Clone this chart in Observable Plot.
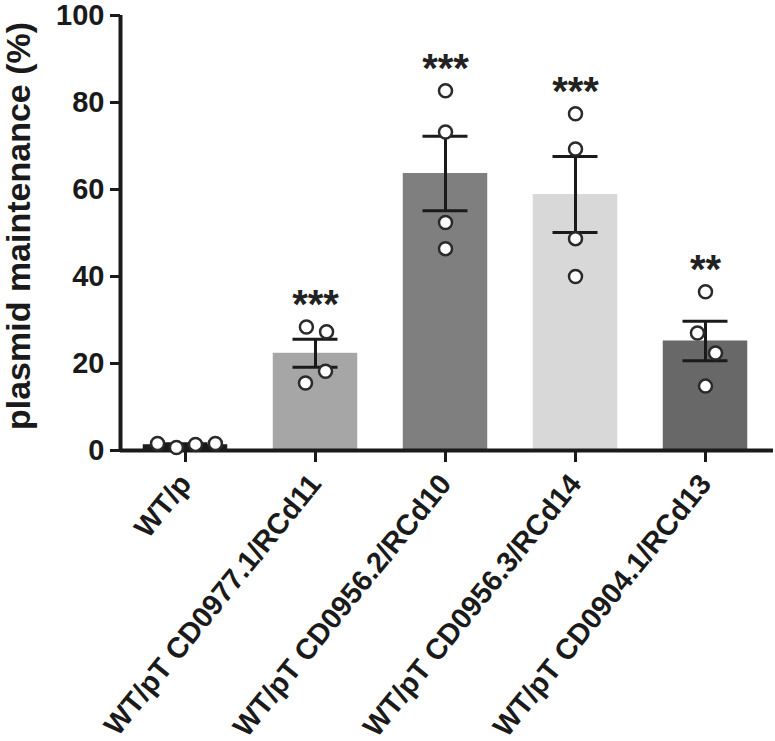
<!DOCTYPE html>
<html><head><meta charset="utf-8">
<script src="https://cdn.jsdelivr.net/npm/d3@7"></script>
<script src="https://cdn.jsdelivr.net/npm/@observablehq/plot@0.6"></script>
<style>body{margin:0;background:#fff}#chart svg{display:block}</style>
</head><body><div id="chart"></div>
<script>
// ---- data ----
const categories = ["WT/p", "WT/pT CD0977.1/RCd11", "WT/pT CD0956.2/RCd10", "WT/pT CD0956.3/RCd14", "WT/pT CD0904.1/RCd13"];
const replicate1 = [1.6, 28.4, 82.7, 77.4, 36.5];
const replicate2 = [0.7, 27.3, 73.2, 69.3, 27.0];
const replicate3 = [1.4, 18.2, 52.4, 48.7, 22.4];
const replicate4 = [1.6, 15.5, 46.4, 40.0, 14.8];
const significance = ["", "***", "***", "***", "**"];
const yTicks = [0, 20, 40, 60, 80, 100];
const yLabel = "plasmid maintenance (%)";

// ---- styling / layout ----
const barColors = ["#1c1c1c", "#a6a6a6", "#7f7f7f", "#d8d8d8", "#686868"];
// horizontal scatter offsets of the replicate dots (fraction of category step)
const scatterOffsets = [
  [-0.215, -0.07, 0.077, 0.23],
  [-0.07, 0.085, 0.077, -0.077],
  [0, 0, 0, 0],
  [0, 0, 0, 0],
  [0, -0.062, 0.077, 0]
];
const halfBar = 0.325, halfCap = 0.173;
const font = "'Liberation Sans', Arial, Helvetica, sans-serif";
const ink = "#1a1a1a";

const replicates = [replicate1, replicate2, replicate3, replicate4];
const points = [];
categories.forEach((c, i) => replicates.forEach((r, k) =>
  points.push({i, value: r[i], off: scatterOffsets[i][k]})));
const stats = categories.map((c, i) => {
  const vals = replicates.map(r => r[i]);
  const mean = d3.mean(vals);
  const sem = d3.deviation(vals) / Math.sqrt(vals.length);
  return {i, mean, sem, lo: mean - sem, hi: mean + sem, max: d3.max(vals), color: barColors[i], sig: significance[i]};
});

const chart = Plot.plot({
  width: 775,
  height: 741,
  marginLeft: 120,
  marginRight: 5,
  marginTop: 15,
  marginBottom: 291,
  style: {fontFamily: font, fontWeight: "bold", color: ink, background: "#fff"},
  x: {domain: [-0.5, categories.length - 0.5], axis: null},
  y: {domain: [0, 100], axis: null},
  marks: [
    Plot.rectY(stats, {x1: d => d.i - halfBar, x2: d => d.i + halfBar, y1: 0, y2: "mean", fill: "color"}),
    Plot.ruleX(stats, {x: "i", y1: "lo", y2: "hi", stroke: ink, strokeWidth: 3}),
    Plot.ruleY(stats, {y: "hi", x1: d => d.i - halfCap, x2: d => d.i + halfCap, stroke: ink, strokeWidth: 3}),
    Plot.ruleY(stats, {y: "lo", x1: d => d.i - halfCap, x2: d => d.i + halfCap, stroke: ink, strokeWidth: 3}),
    Plot.ruleY([0], {stroke: ink, strokeWidth: 4, insetRight: -3}),
    Plot.ruleX([-0.5], {y1: 0, y2: 100, stroke: ink, strokeWidth: 4}),
    Plot.dot(points, {x: d => d.i + d.off, y: "value", r: 6.5, fill: "white", stroke: "#2a2a2a", strokeWidth: 2.5}),
    Plot.text(stats, {x: "i", y: "max", text: "sig", fontSize: 40, dy: -22, fill: "#222", fontWeight: "bold"}),
    Plot.axisY({ticks: yTicks, tickSize: 10, tickPadding: 6, fontSize: 29, fontWeight: "bold", strokeWidth: 3, stroke: ink, label: null}),
    Plot.axisX({ticks: d3.range(categories.length), tickFormat: i => categories[i], tickSize: 12, tickPadding: 16,
      tickRotate: -51, fontSize: 29, fontWeight: "bold", strokeWidth: 3, stroke: ink, label: null}),
    Plot.text([yLabel], {frameAnchor: "left", textAnchor: "middle", lineAnchor: "middle", dx: -101, dy: -7, rotate: -90, fontSize: 34, fontWeight: "bold", fill: ink})
  ]
});
document.getElementById("chart").append(chart);
</script>
</body></html>
